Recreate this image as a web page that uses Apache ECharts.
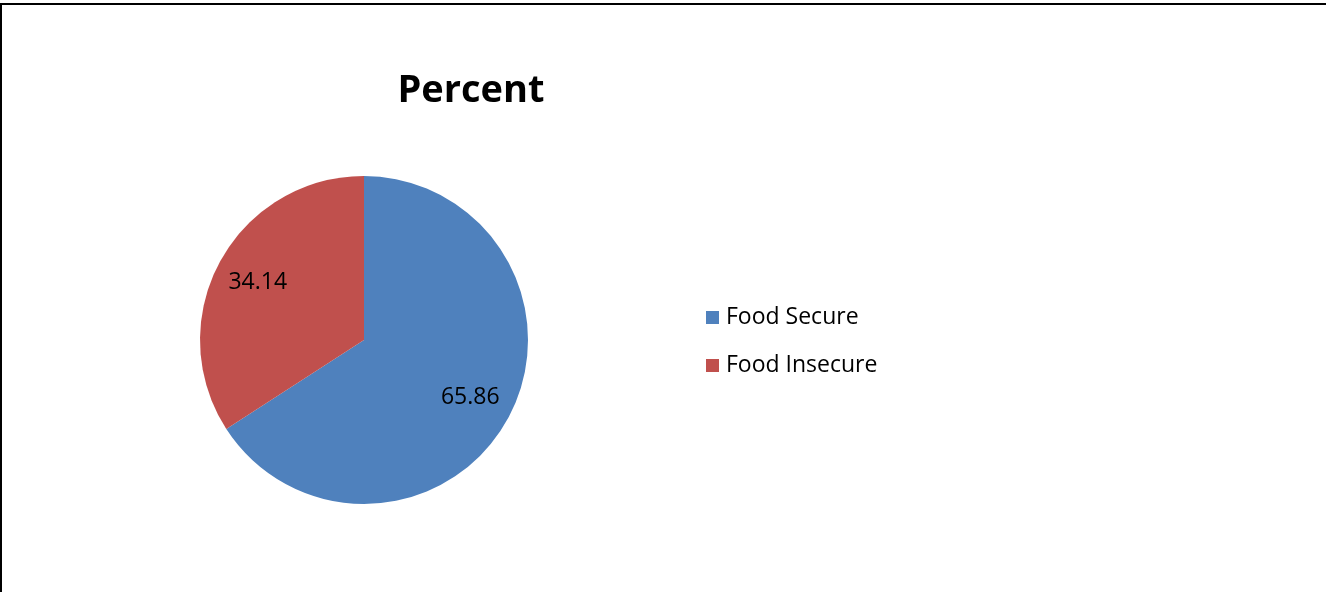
<!DOCTYPE html>
<html>
<head>
<meta charset="utf-8">
<script src="https://cdn.jsdelivr.net/npm/echarts@6/dist/echarts.min.js"></script>
<style>
  html, body { margin: 0; padding: 0; background: #fff; }
  #chart { width: 1326px; height: 592px; }
</style>
</head>
<body>
<div id="chart"></div>
<script>
// Share of households by food security status
const categories = ['Food Secure', 'Food Insecure'];
const percents = [65.86, 34.14];
const colors = ['#4F81BD', '#C0504D'];
const titleText = 'Percent';

const FONT = '"Open Sans", "Noto Sans", sans-serif';
const pieData = categories.map((name, i) => ({ name, value: percents[i], itemStyle: { color: colors[i] } }));

const chart = echarts.init(document.getElementById('chart'), null, { renderer: 'canvas' });
chart.setOption({
  backgroundColor: '#ffffff',
  animation: false,
  title: {
    text: titleText,
    left: 466,
    textAlign: 'center',
    top: 67,
    textStyle: { fontFamily: FONT, fontWeight: 'bold', fontSize: 38, color: '#000' }
  },
  legend: {
    orient: 'vertical',
    left: 701,
    top: 301,
    itemWidth: 13,
    itemHeight: 13,
    itemGap: 25,
    icon: 'rect',
    data: categories,
    textStyle: { fontFamily: FONT, fontSize: 23, color: '#000', padding: [0, 0, 0, 2] }
  },
  graphic: [{
    type: 'rect',
    shape: { x: 1, y: 4, width: 1400, height: 700 },
    style: { fill: 'none', stroke: '#000', lineWidth: 2 },
    silent: true,
    z: 100
  }],
  series: [
    {
      type: 'pie',
      center: [364, 340],
      radius: [0, 164],
      startAngle: 90,
      clockwise: true,
      label: { show: false },
      labelLine: { show: false },
      emphasis: { disabled: true },
      data: pieData
    },
    {
      // label ring: places the value labels at ~0.72 of the radius
      type: 'pie',
      center: [364, 340],
      radius: [72, 164],
      startAngle: 90,
      clockwise: true,
      silent: true,
      itemStyle: { color: 'rgba(0,0,0,0)' },
      label: {
        show: true,
        position: 'inside',
        formatter: p => percents[p.dataIndex].toFixed(2),
        fontFamily: FONT,
        fontSize: 23,
        color: '#000'
      },
      labelLine: { show: false },
      emphasis: { disabled: true },
      data: categories.map((name, i) => ({ name, value: percents[i] })),
      legendHoverLink: false
    }
  ]
});
</script>
</body>
</html>
